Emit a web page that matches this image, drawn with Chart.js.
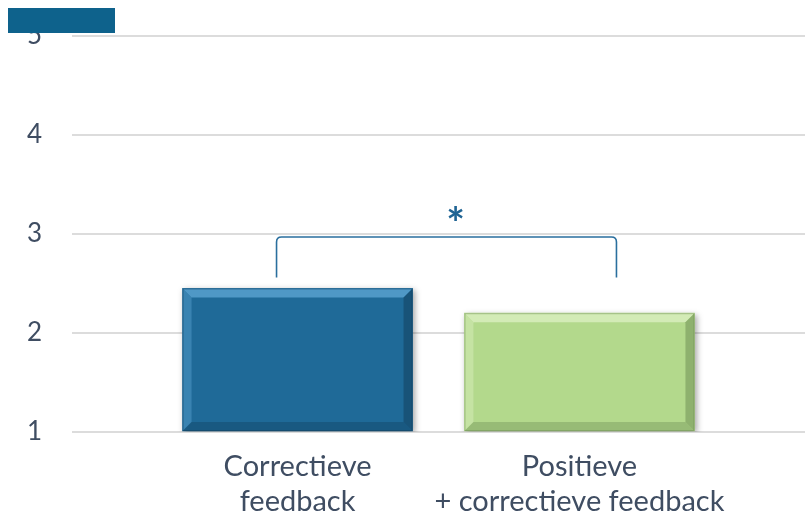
<!DOCTYPE html>
<html>
<head>
<meta charset="utf-8">
<script src="https://cdn.jsdelivr.net/npm/chart.js@4/dist/chart.umd.min.js"></script>
<style>
    html, body { margin: 0; padding: 0; background: #ffffff; }
    #wrap { position: relative; width: 805px; height: 517px; }
    #tag { position: absolute; left: 8px; top: 8px; width: 107px; height: 25px; background: #0E628C; z-index: 2; }
</style>
</head>
<body>
<div id="wrap">
    <div id="tag"></div>
    <canvas id="grafico" width="805" height="517"></canvas>
</div>
<script>
// ================== DATOS ==================
const categorias = [['Correctieve', 'feedback'], ['Positieve', '+ correctieve feedback']];
const valores = [2.45, 2.2];
const colores = ['#1F6A98', '#B3D98C'];
const coloresClaros = ['#4F98C6', '#D3EBB6'];
const coloresOscuros = ['#12405E', '#6F8F55'];
const ticksY = [1, 2, 3, 4, 5];
const significancia = '*';

const textoColor = '#3F4D62';
const fuente = 'Lato, "Open Sans", sans-serif';

// Sombra debajo de las barras
const sombraPlugin = {
    id: 'sombra',
    beforeDatasetDraw(chart) {
        const ctx = chart.ctx;
        ctx.save();
        ctx.shadowColor = 'rgba(0,0,0,0.35)';
        ctx.shadowBlur = 6;
        ctx.shadowOffsetX = 2;
        ctx.shadowOffsetY = 2;
    },
    afterDatasetDraw(chart) {
        chart.ctx.restore();
    }
};

// Efecto biselado de las barras + corchete de significancia
const biselPlugin = {
    id: 'bisel',
    afterDatasetsDraw(chart) {
        const ctx = chart.ctx;
        const meta = chart.getDatasetMeta(0);
        const b = 9;
        meta.data.forEach(function (bar, i) {
            const p = bar.getProps(['x', 'y', 'base', 'width'], true);
            const l = p.x - p.width / 2, r = p.x + p.width / 2, t = p.y, bo = p.base;
            ctx.save();
            // arriba
            ctx.fillStyle = coloresClaros[i];
            ctx.beginPath();
            ctx.moveTo(l, t); ctx.lineTo(r, t); ctx.lineTo(r - b, t + b); ctx.lineTo(l + b, t + b); ctx.closePath();
            ctx.fill();
            // izquierda
            ctx.globalAlpha = 0.55;
            ctx.beginPath();
            ctx.moveTo(l, t); ctx.lineTo(l + b, t + b); ctx.lineTo(l + b, bo - b); ctx.lineTo(l, bo); ctx.closePath();
            ctx.fill();
            // derecha
            ctx.fillStyle = coloresOscuros[i];
            ctx.globalAlpha = 0.55;
            ctx.beginPath();
            ctx.moveTo(r, t); ctx.lineTo(r - b, t + b); ctx.lineTo(r - b, bo - b); ctx.lineTo(r, bo); ctx.closePath();
            ctx.fill();
            // abajo
            ctx.globalAlpha = 0.4;
            ctx.beginPath();
            ctx.moveTo(l, bo); ctx.lineTo(l + b, bo - b); ctx.lineTo(r - b, bo - b); ctx.lineTo(r, bo); ctx.closePath();
            ctx.fill();
            // borde fino
            ctx.globalAlpha = 0.5;
            ctx.strokeStyle = coloresOscuros[i];
            ctx.lineWidth = 1;
            ctx.strokeRect(l + 0.5, t + 0.5, p.width - 1, bo - t - 1);
            ctx.restore();
        });

        // Corchete
        const y = chart.scales.y;
        const a = meta.data[0].getProps(['x'], true).x - 21;
        const c = meta.data[1].getProps(['x'], true).x + 37;
        const top = y.getPixelForValue(2.97);
        const pie = y.getPixelForValue(2.56);
        const rad = 5;
        ctx.save();
        ctx.strokeStyle = '#2A6F9E';
        ctx.lineWidth = 1.6;
        ctx.beginPath();
        ctx.moveTo(a, pie);
        ctx.lineTo(a, top + rad);
        ctx.quadraticCurveTo(a, top, a + rad, top);
        ctx.lineTo(c - rad, top);
        ctx.quadraticCurveTo(c, top, c, top + rad);
        ctx.lineTo(c, pie);
        ctx.stroke();
        ctx.fillStyle = '#1F6494';
        ctx.font = 'bold 44px ' + fuente;
        ctx.textAlign = 'center';
        ctx.textBaseline = 'middle';
        ctx.fillText(significancia, (a + c) / 2 + 9, top - 12);
        ctx.restore();
    }
};

const config = {
    type: 'bar',
    data: {
        datasets: [{
            data: valores.map(function (v, i) { return { x: i, y: v }; }),
            backgroundColor: colores,
            borderWidth: 0,
            base: 1,
            barThickness: 230
        }]
    },
    options: {
        responsive: false,
        animation: false,
        layout: { padding: { top: 36, right: 0, left: 0, bottom: 0 } },
        plugins: {
            legend: { display: false },
            tooltip: { enabled: false }
        },
        scales: {
            x: {
                type: 'linear',
                min: -0.8,
                max: 1.8,
                offset: false,
                afterBuildTicks: function (scale) {
                    scale.ticks = categorias.map(function (c, i) { return { value: i }; });
                },
                afterFit: function (scale) { scale.height = 85; },
                grid: { display: false, offset: false },
                border: { display: false },
                ticks: {
                    autoSkip: false,
                    maxRotation: 0,
                    padding: 9,
                    color: textoColor,
                    font: { family: fuente, size: 29, lineHeight: 1.2 },
                    callback: function (value, index) { return categorias[index]; }
                }
            },
            y: {
                min: 1,
                max: 5,
                afterBuildTicks: function (scale) {
                    scale.ticks = ticksY.map(function (v) { return { value: v }; });
                },
                afterFit: function (scale) { scale.width = 72; },
                grid: { color: '#DCDCDC', lineWidth: 2, drawTicks: true, tickLength: 28, tickColor: 'rgba(0,0,0,0)' },
                border: { display: false },
                ticks: {
                    padding: 2,
                    color: textoColor,
                    font: { family: fuente, size: 26 }
                }
            }
        }
    },
    plugins: [sombraPlugin, biselPlugin]
};

new Chart(document.getElementById('grafico'), config);
</script>
</body>
</html>
